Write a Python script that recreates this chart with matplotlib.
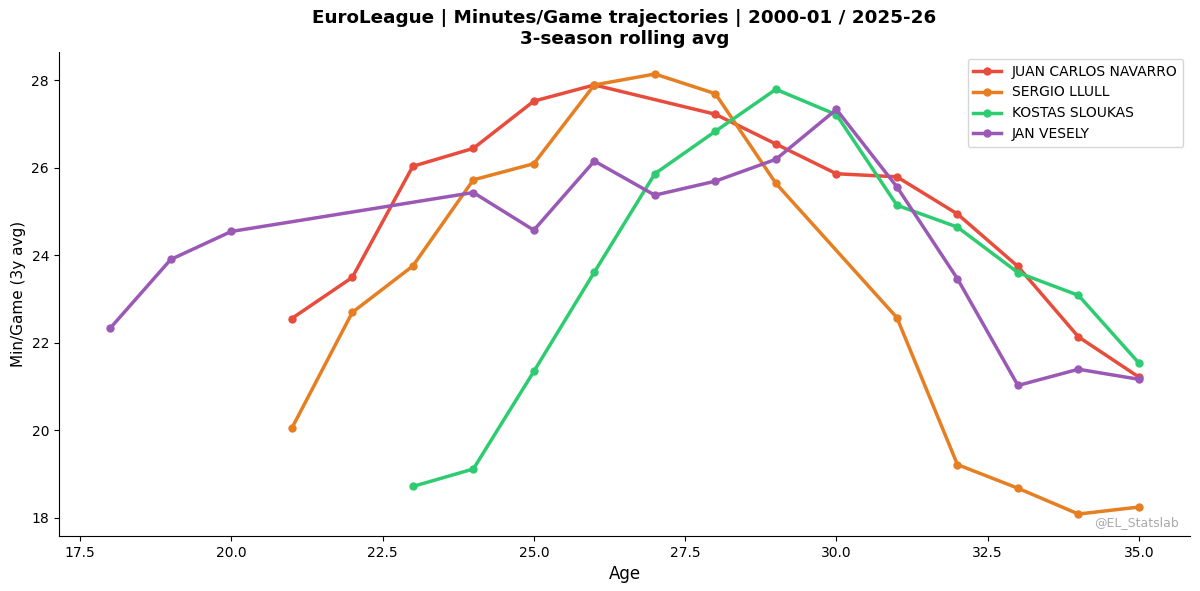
import matplotlib
matplotlib.use("Agg")
import matplotlib.pyplot as plt

navarro_age = [21, 22, 23, 24, 25, 26, 28, 29, 30, 31, 32, 33, 34, 35]
navarro_min = [22.55, 23.49, 26.03, 26.44, 27.52, 27.89, 27.22, 26.54, 25.86, 25.79, 24.94, 23.74, 22.13, 21.21]

llull_age = [21, 22, 23, 24, 25, 26, 27, 28, 29, 31, 32, 33, 34, 35]
llull_min = [20.04, 22.69, 23.75, 25.72, 26.09, 27.89, 28.14, 27.69, 25.64, 22.57, 19.21, 18.67, 18.08, 18.24]

sloukas_age = [23, 24, 25, 26, 27, 28, 29, 30, 31, 32, 33, 34, 35]
sloukas_min = [18.71, 19.11, 21.34, 23.61, 25.86, 26.83, 27.79, 27.21, 25.14, 24.64, 23.60, 23.08, 21.53]

vesely_age = [18, 19, 20, 24, 25, 26, 27, 28, 29, 30, 31, 32, 33, 34, 35]
vesely_min = [22.33, 23.90, 24.54, 25.43, 24.57, 26.15, 25.37, 25.69, 26.19, 27.33, 25.56, 23.46, 21.02, 21.39, 21.16]

names = ["JUAN CARLOS NAVARRO", "SERGIO LLULL", "KOSTAS SLOUKAS", "JAN VESELY"]
colors = ["#e74c3c", "#e67e22", "#2ecc71", "#9b59b6"]
series = [(navarro_age, navarro_min), (llull_age, llull_min),
          (sloukas_age, sloukas_min), (vesely_age, vesely_min)]

fig, ax = plt.subplots(figsize=(12, 5.91), dpi=100)
fig.subplots_adjust(left=0.049, right=0.992, bottom=0.093, top=0.912)

for (x, y), name, c in zip(series, names, colors):
    ax.plot(x, y, marker="o", color=c, lw=2.5, ms=5, label=name)

ax.set_title("EuroLeague | Minutes/Game trajectories | 2000-01 / 2025-26\n3-season rolling avg",
             fontsize=13.2, fontweight="bold")
ax.set_xlabel("Age", fontsize=12)
ax.set_ylabel("Min/Game (3y avg)", fontsize=11)
ax.tick_params(labelsize=10)
ax.spines["top"].set_visible(False)
ax.spines["right"].set_visible(False)
ax.legend(loc="upper right", fontsize=10)
ax.text(0.9895, 0.015, "@EL_Statslab", transform=ax.transAxes, ha="right", va="bottom",
        fontsize=9, color="#aaaaaa")

fig.savefig("out.png", dpi=100)
